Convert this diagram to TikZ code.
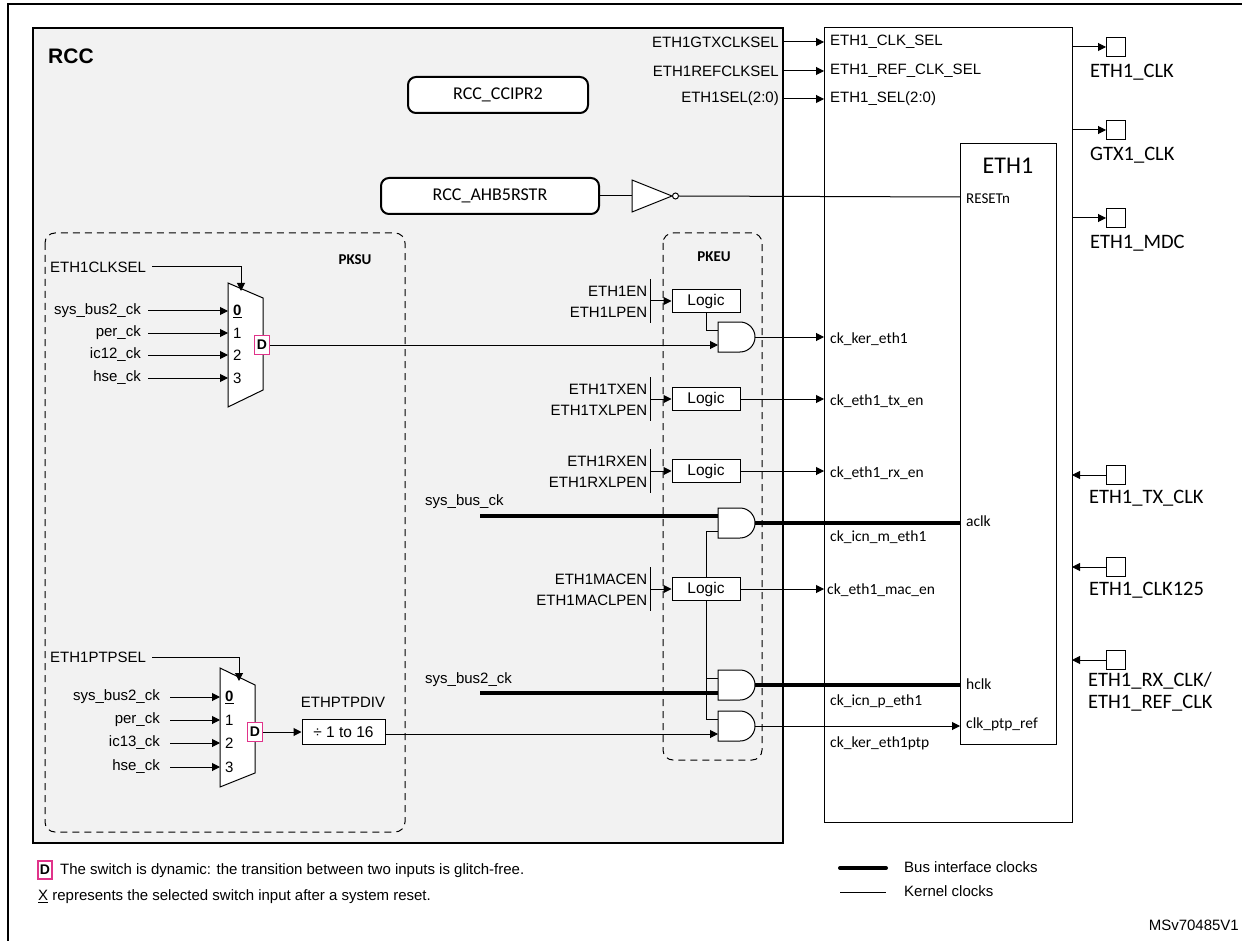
\documentclass[tikz,border=0pt]{standalone}
\usepackage{fontspec}
\setmainfont{Liberation Sans}
\newfontfamily\calfont{Carlito}
\usetikzlibrary{arrows.meta}
\definecolor{rccgray}{HTML}{F2F2F2}
\definecolor{dpink}{HTML}{E0338A}
\tikzset{
  lbl/.style={inner sep=0pt,font=\fontsize{15}{17}\selectfont},
  clbl/.style={inner sep=0pt,font=\calfont\fontsize{15.5}{17}\selectfont},
  pin/.style={inner sep=0pt,font=\calfont\fontsize{20.5}{22}\selectfont,align=left},
  leg/.style={inner sep=0pt,anchor=west,font=\fontsize{15}{16}\selectfont},
  arr/.style={-{Triangle[length=8pt,width=8pt]}},
  wire/.style={line width=1pt},
  bus/.style={line width=4pt},
  logic/.style={draw,line width=1pt,minimum width=68pt,minimum height=23pt,inner sep=0pt,font=\fontsize{15.5}{17}\selectfont,fill=white},
  dbox/.style={draw=dpink,line width=1.2pt,minimum width=15pt,minimum height=19pt,inner sep=0pt,font=\bfseries\fontsize{14}{15}\selectfont,fill=white},
  reg/.style={draw,rounded corners=8pt,line width=2pt,fill=white,inner sep=0pt,font=\calfont\fontsize{18}{20}\selectfont},
  dashedbox/.style={draw,dashed,dash pattern=on 7pt off 5pt,line width=1pt,rounded corners=10pt},
  sq/.style={draw,line width=1pt,minimum size=19pt,inner sep=0pt}
}
\newcommand{\myand}[3]{% name, x, y(center)
  \draw[wire,fill=white] (#2,#3-15) -- (#2+22,#3-15) arc(-90:90:15) -- (#2,#3+15) -- cycle;
  \coordinate (#1-a) at (#2,#3-7);
  \coordinate (#1-b) at (#2,#3+8);
  \coordinate (#1-o) at (#2+37,#3);
}
\begin{document}
\begin{tikzpicture}[x=1pt,y=-1pt]
\useasboundingbox (0,0) rectangle (1242,941);
% outer frame
\draw[line width=1.2pt] (1242,4) -- (8,4) -- (8,941);
% RCC box
\draw[line width=2pt,fill=rccgray] (33,28) rectangle (783,843);
\node[inner sep=0pt,anchor=west,font=\bfseries\fontsize{21}{23}\selectfont] (rcc) at (48,56) {RCC};
% peripheral boxes
\draw[line width=1pt,fill=white] (824,28) rectangle (1072,822);
\node[draw,line width=1pt,minimum width=96pt,minimum height=601pt,anchor=north west,inner sep=0pt] (eth) at (960,143) {};
\node[inner sep=0pt,font=\calfont\fontsize{24}{26}\selectfont] (ethlbl) at (1008,166) {ETH1};
% registers
\node[reg,minimum width=180pt,minimum height=36pt] (ccipr) at (498,95) {RCC\_CCIPR2};
\node[reg,minimum width=218pt,minimum height=36pt] (ahb) at (490,196) {RCC\_AHB5RSTR};
% inverter
\draw[wire,fill=white] (632,180) -- (672,196) -- (632,212) -- cycle;
\node[draw,circle,line width=1pt,minimum size=6pt,inner sep=0pt,fill=white] (bub) at (675.5,196) {};
\draw[wire] (ahb.east) -- (632,196);
\coordinate (rst) at (960,197);
\draw[wire] (bub.east) -- (rst);
\node[inner sep=0pt,anchor=west,font=\calfont\fontsize{15}{16}\selectfont] at (966,199) {RESETn};
% selection signals
\foreach \y/\a/\b in {42/ETH1GTXCLKSEL/ETH1\_CLK\_SEL,71/ETH1REFCLKSEL/ETH1\_REF\_CLK\_SEL,99/ETH1SEL(2:0)/ETH1\_SEL(2:0)}{
  \node[lbl,anchor=east] at (779,\y) {\a};
  \draw[wire,arr] (783,\y) -- (824,\y);
  \node[lbl,anchor=west] at (830,\y) {\b};
}
% output pins
\foreach \y/\t in {47/ETH1\_CLK,130/GTX1\_CLK,218/ETH1\_MDC}{
  \node[sq] (p\y) at (1116,\y) {};
  \draw[wire,arr] (1072,\y) -- (p\y.west);
  \node[pin,anchor=west] at (1090,\y+25) {\t};
}
\foreach \y/\t in {475/ETH1\_TX\_CLK,567/ETH1\_CLK125}{
  \node[sq] (p\y) at (1116,\y) {};
  \draw[wire,arr] (p\y.west) -- (1072,\y);
  \node[pin,anchor=west] at (1089,\y+23) {\t};
}
\node[sq] (prx) at (1116,660) {};
\draw[wire,arr] (prx.west) -- (1072,660);
\node[pin,anchor=north west] at (1088,672) {ETH1\_RX\_CLK/\\[0pt]ETH1\_REF\_CLK};
% dashed boxes
\draw[dashedbox] (45,233) rectangle (405,832);
\node[inner sep=0pt,font=\calfont\bfseries\fontsize{15}{16}\selectfont] at (355,260) {PKSU};
\draw[dashedbox] (663,233) rectangle (762,760);
\node[inner sep=0pt,font=\calfont\bfseries\fontsize{15}{16}\selectfont] at (714,257) {PKEU};
% mux 1
\draw[wire,fill=white] (228,283) -- (263,298) -- (263,390) -- (228,407) -- cycle;
\node[lbl,anchor=west] (sel1) at (50,267) {ETH1CLKSEL};
\draw[wire,arr] (sel1.east) ++(6,0) -- (241,267) -- (241,291);
\foreach \y/\t/\n in {311/sys\_bus2\_ck/\underline{\textbf{0}},333/per\_ck/1,355/ic12\_ck/2,378/hse\_ck/3}{
  \node[lbl,anchor=east] at (141,\y) {\t};
  \draw[wire,arr] (148,\y) -- (228,\y);
  \node[lbl,anchor=west] at (233,\y) {\n};
}
\node[dbox] (d1) at (262,345) {D};
% mux 2
\draw[wire,fill=white] (220,668) -- (255,685) -- (255,773) -- (220,787) -- cycle;
\node[lbl,anchor=west] (sel2) at (50,657) {ETH1PTPSEL};
\draw[wire,arr] (sel2.east) ++(6,0) -- (239,657) -- (239,681);
\foreach \y/\t/\n in {697/sys\_bus2\_ck/\underline{\textbf{0}},720/per\_ck/1,743/ic13\_ck/2,767/hse\_ck/3}{
  \node[lbl,anchor=east] at (160,\y) {\t};
  \draw[wire,arr] (170,\y) -- (220,\y);
  \node[lbl,anchor=west] at (225,\y) {\n};
}
\node[dbox] (d2) at (255,732) {D};
\node[draw,line width=1pt,minimum width=83pt,minimum height=25pt,inner sep=0pt,font=\fontsize{15.5}{17}\selectfont,fill=white] (div) at (343.5,732) {÷ 1 to 16};
\node[lbl] at (343,702) {ETHPTPDIV};
\draw[wire,arr] (d2.east) -- (div.west);
% logic blocks
\node[logic] (l1) at (706,301) {Logic};
\node[logic] (l2) at (706,399) {Logic};
\node[logic] (l3) at (706,471) {Logic};
\node[logic] (l4) at (706,589) {Logic};
\foreach \n/\a/\b in {l1/ETH1EN/ETH1LPEN,l2/ETH1TXEN/ETH1TXLPEN,l3/ETH1RXEN/ETH1RXLPEN,l4/ETH1MACEN/ETH1MACLPEN}{
  \node[lbl,anchor=east] at ([xshift=-24pt,yshift=10pt]\n.west) {\a};
  \node[lbl,anchor=east] at ([xshift=-24pt,yshift=-11pt]\n.west) {\b};
  \draw[wire] ([xshift=-21pt,yshift=22pt]\n.west) -- ([xshift=-21pt,yshift=-22pt]\n.west);
  \draw[wire,arr] ([xshift=-21pt]\n.west) -- (\n.west);
}
% gates
\myand{g1}{718}{337}
\myand{g2}{718}{523}
\myand{g3}{718}{685}
\myand{g4}{718}{726}
\draw[wire] (l1.south) -- (706,330) -- (g1-a);
\draw[wire,arr] (d1.east) -- (g1-b);
\draw[wire] (l4.north) -- (706,531) -- (g2-b);
\draw[wire] (l4.south) -- (706,719) -- (g4-a);
\draw[wire] (706,678) -- (g3-a);
\draw[bus] (480,516) -- (g2-a);
\draw[bus] (480,693) -- (g3-b);
\node[lbl,anchor=west] at (425,502) {sys\_bus\_ck};
\node[lbl,anchor=west] at (425,680) {sys\_bus2\_ck};
\draw[wire,arr] (div.east |- g4-b) -- (g4-b);
% outputs to ETH
\draw[wire,arr] (g1-o) -- (824,337);
\node[clbl,anchor=west] at (830,339) {ck\_ker\_eth1};
\draw[wire,arr] (l2.east) -- (824,399);
\node[clbl,anchor=west] at (830,401) {ck\_eth1\_tx\_en};
\draw[wire,arr] (l3.east) -- (824,471);
\node[clbl,anchor=west] at (830,473) {ck\_eth1\_rx\_en};
\draw[wire,arr] (l4.east) -- (824,589);
\node[clbl,anchor=west] at (827,590) {ck\_eth1\_mac\_en};
\draw[bus] (g2-o) -- (960,523);
\node[clbl,anchor=west] at (966,521) {aclk};
\node[clbl,anchor=west] at (830,537) {ck\_icn\_m\_eth1};
\draw[bus] (g3-o) -- (960,685);
\node[clbl,anchor=west] at (966,684) {hclk};
\node[clbl,anchor=west] at (830,701) {ck\_icn\_p\_eth1};
\draw[wire,arr] (g4-o) -- (960,726);
\node[clbl,anchor=west] at (966,724) {clk\_ptp\_ref};
\node[clbl,anchor=west] at (830,743) {ck\_ker\_eth1ptp};
% legend
\node[dbox,minimum width=14pt,minimum height=18pt] (dl) at (45,870) {D};
\node[leg] at (60,871) {The switch is dynamic: the transition between two inputs is glitch-free.};
\node[leg] at (38,897) {\underline{X} represents the selected switch input after a system reset.};
\draw[line width=4pt,line cap=round] (840,868) -- (886,868);
\node[leg] at (904,867) {Bus interface clocks};
\draw[line width=1pt] (840,892) -- (886,892);
\node[leg] at (904,891) {Kernel clocks};
\node[leg,anchor=east] at (1239,925) {MSv70485V1};
\end{tikzpicture}
\end{document}
